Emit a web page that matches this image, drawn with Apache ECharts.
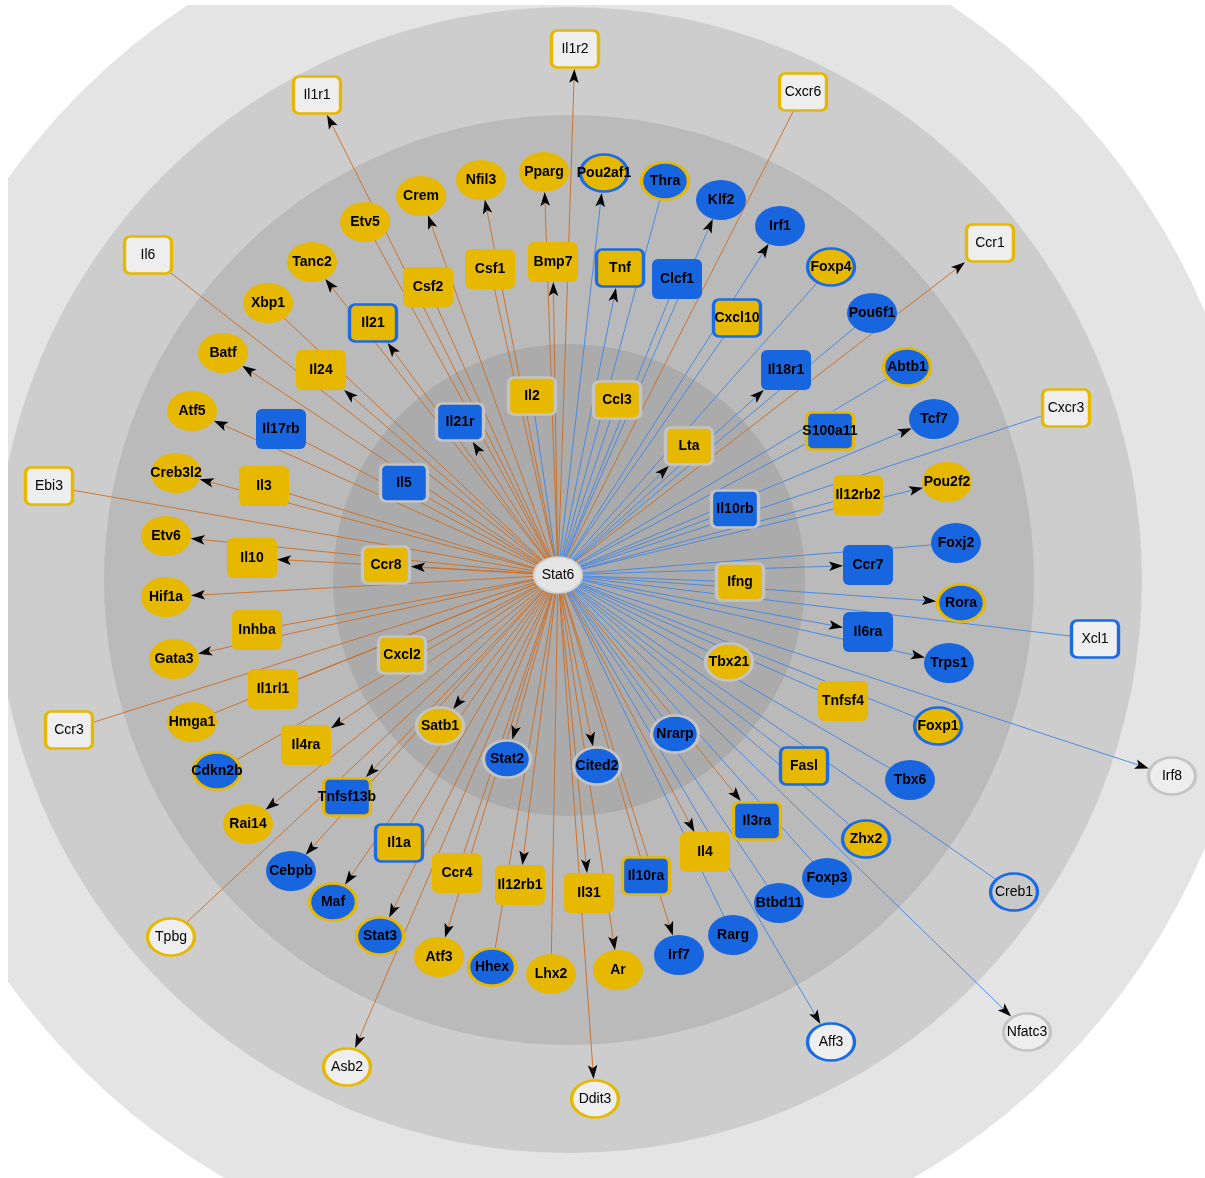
<!DOCTYPE html>
<html>
<head>
<meta charset="utf-8">
<script src="https://cdn.jsdelivr.net/npm/echarts@6/dist/echarts.min.js"></script>
<style>
  html, body { margin: 0; padding: 0; background: #ffffff; }
  #chart { width: 1205px; height: 1178px; }
</style>
</head>
<body>
<div id="chart"></div>
<script>
// Stat6 regulatory network: every gene is linked to the hub at (0, 0).
// Layout coordinates are offsets from the hub; codes per gene:
//   fill / rim: Y = yellow, B = blue, W = light, G = grey, - = none
//   tone: O = orange edge, B = blue edge;  arrow: 1 = arrowhead at target

const hubGene = 'Stat6';

// outermost genes
const outerGenes = ['Il1r2','Il1r1','Cxcr6','Il6','Ccr1','Cxcr3','Ebi3','Xcl1','Ccr3','Irf8','Tpbg','Creb1','Aff3','Nfatc3','Asb2','Ddit3'];
const outerX = [17,-241,245,-410,432,508,-509,537,-489,614,-387,456,273,469,-211,37];
const outerY = [-526,-480,-483,-320,-332,-167,-89,64,155,201,362,317,467,457,492,524];
const outerShape = 'rrrrrrrrreeeeeee';
const outerFill  = 'WWWWWWWWWWWGWWWW';
const outerRim   = 'YYYYYYYBYGYBBGYY';
const outerTone  = 'OOOOOBOBOBOBBBOO';
const outerArrow = '1100100001001111';

// ring of transcription factors (ellipses)
const tfGenes = ['Etv5','Crem','Nfil3','Pparg','Pou2af1','Thra','Klf2','Irf1','Foxp4','Pou6f1',
  'Abtb1','Tcf7','Pou2f2','Foxj2','Rora','Trps1','Foxp1','Tbx6','Zhx2','Foxp3',
  'Btbd11','Rarg','Irf7','Ar','Lhx2','Hhex','Atf3','Stat3','Maf','Cebpb',
  'Rai14','Cdkn2b','Hmga1','Gata3','Hif1a','Etv6','Creb3l2','Atf5','Batf','Xbp1','Tanc2'];
const tfX = [-193,-137,-77,-14,46,107,163,222,273,314,
  349,376,389,398,403,391,380,352,308,269,
  221,175,121,60,-7,-66,-119,-178,-225,-267,
  -310,-341,-366,-384,-392,-392,-382,-366,-335,-290,-246];
const tfY = [-353,-379,-395,-403,-402,-394,-375,-349,-308,-262,
  -208,-156,-93,-32,28,88,151,205,264,303,
  328,360,380,395,399,392,382,361,327,296,
  249,196,147,84,22,-39,-102,-164,-222,-272,-313];
const tfFill  = 'YYYYYBBBYB' + 'BBYBBBYBYB' + 'BBBYYBYBBB' + 'YBYYYYYYYY' + 'Y';
const tfRim   = '----BY--B-' + 'Y---Y-B-B-' + '-----Y-YY-' + '-Y--------' + '-';
const tfTone  = 'OOOOBBBBBB' + 'BBBBBBBBBB' + 'BBOOOOOOOO' + 'OOOOOOOOOO' + 'O';
const tfArrow = '0111101100' + '0110110000' + '0011001111' + '1001111110' + '1';

// ring of cytokines and receptors (rounded boxes)
const cytoGenes = ['Il24','Il21','Csf2','Csf1','Bmp7','Tnf','Clcf1','Cxcl10','Il18r1','S100a11',
  'Il12rb2','Ccr7','Il6ra','Tnfsf4','Fasl','Il3ra','Il4','Il10ra','Il31','Il12rb1',
  'Ccr4','Il1a','Tnfsf13b','Il4ra','Il1rl1','Inhba','Il10','Il3','Il17rb'];
const cytoX = [-237,-185,-130,-68,-5,62,119,179,228,272,
  300,310,310,285,246,199,147,88,31,-38,
  -101,-159,-211,-252,-285,-301,-306,-294,-277];
const cytoY = [-205,-252,-288,-306,-313,-307,-296,-257,-205,-144,
  -80,-10,57,126,191,246,277,301,318,310,
  298,268,222,170,114,55,-17,-89,-146];
const cytoFill  = 'YYYYYYBYBB' + 'YBBYYBYBYY' + 'YYBYYYYYB';
const cytoRim   = '-B---B-B-Y' + '----BY-Y--' + '-BY------';
const cytoTone  = 'OOOOOBBBBB' + 'BBBBBOOOOO' + 'OOOOOOOOO';
const cytoArrow = '1100110010' + '0110011011' + '001100100';

// genes closest to the hub
const innerGenes = ['Il21r','Il5','Il2','Ccl3','Lta','Il10rb','Ifng','Tbx21','Nrarp','Cited2','Stat2','Satb1','Cxcl2','Ccr8'];
const innerX = [-98,-154,-26,59,131,177,182,171,117,39,-51,-118,-156,-172];
const innerY = [-153,-92,-179,-175,-129,-66,7,87,159,191,184,151,80,-10];
const innerShape = 'rrrrrrreeeeerr';
const innerFill  = 'BBYYYBYYBBBYYY';
const innerRim   = 'GGGGGGGGGGGGGG';
const innerTone  = 'OOBBBBBBBOOOOO';
const innerArrow = '10001000011101';

// concentric background bands: centre offset and radii
const bandCenter = [11, 5];
const bandRadii = [690, 573, 465, 236];

// ---- styling ----
const bandColors = ['#e4e4e4', '#cdcdcd', '#bababa', '#ababab'];
const fillColors = { Y: '#e6b800', B: '#1766e0', W: '#eeeeee', G: '#c9c9c9' };
const rimColors  = { Y: '#e6b800', B: '#1a6be6', G: '#c4c4c4' };
const toneColors = { O: '#cc6c20', B: '#3f84e5' };
const ELLIPSE = 'path://M0 20 A25 20 0 1 1 50 20 A25 20 0 1 1 0 20 Z';
const BOX = 'path://M6 0 H44 A6 6 0 0 1 50 6 V34 A6 6 0 0 1 44 40 H6 A6 6 0 0 1 0 34 V6 A6 6 0 0 1 6 0 Z';
const HALF_W = 25, HALF_H = 20;

const groups = [
  { genes: outerGenes, x: outerX, y: outerY, shape: outerShape, fill: outerFill, rim: outerRim, tone: outerTone, arrow: outerArrow },
  { genes: tfGenes, x: tfX, y: tfY, shape: null, fill: tfFill, rim: tfRim, tone: tfTone, arrow: tfArrow, defShape: 'e' },
  { genes: cytoGenes, x: cytoX, y: cytoY, shape: null, fill: cytoFill, rim: cytoRim, tone: cytoTone, arrow: cytoArrow, defShape: 'r' },
  { genes: innerGenes, x: innerX, y: innerY, shape: innerShape, fill: innerFill, rim: innerRim, tone: innerTone, arrow: innerArrow }
];

const genes = [];
groups.forEach(function (g) {
  g.genes.forEach(function (name, i) {
    genes.push({
      name: name,
      x: g.x[i], y: g.y[i],
      shape: g.shape ? g.shape[i] : g.defShape,
      fill: g.fill[i], rim: g.rim[i], tone: g.tone[i],
      arrow: g.arrow[i] === '1'
    });
  });
});

function nodeItem(n) {
  const hasRim = n.rim !== '-';
  const light = n.fill === 'W' || n.fill === 'G';
  return {
    name: n.name,
    value: [n.x, n.y],
    symbol: n.shape === 'e' ? ELLIPSE : BOX,
    symbolSize: hasRim ? [47, 37] : [50, 40],
    itemStyle: {
      color: fillColors[n.fill],
      borderColor: hasRim ? rimColors[n.rim] : 'transparent',
      borderWidth: hasRim ? 3 : 0,
      opacity: 1
    },
    label: { fontWeight: light ? 'normal' : 'bold' }
  };
}

const nodeData = [{
  name: hubGene,
  value: [0, 0],
  symbol: ELLIPSE,
  symbolSize: [48, 36],
  itemStyle: { color: '#e5e5e5', borderColor: '#d2d2d2', borderWidth: 2, opacity: 1 },
  label: { fontWeight: 'normal' }
}].concat(genes.map(nodeItem));

const chart = echarts.init(document.getElementById('chart'), null, { renderer: 'canvas' });

chart.setOption({
  animation: false,
  backgroundColor: '#ffffff',
  grid: { left: 8, right: 0, top: 5, bottom: 0, outerBoundsMode: 'none' },
  xAxis: { type: 'value', min: -550, max: 647, show: false },
  yAxis: { type: 'value', min: -570, max: 603, inverse: true, show: false },
  series: [
    {
      // background bands
      type: 'custom',
      coordinateSystem: 'cartesian2d',
      clip: true,
      silent: true,
      z: 0,
      data: bandRadii.map(function (r) { return [bandCenter[0], bandCenter[1], r]; }),
      renderItem: function (params, api) {
        const c = api.coord([api.value(0), api.value(1)]);
        const r = api.size([api.value(2), 0])[0];
        return {
          type: 'circle',
          shape: { cx: c[0], cy: c[1], r: r },
          style: { fill: bandColors[params.dataIndex] }
        };
      }
    },
    {
      // edges from the hub, arrowheads at the target border
      type: 'custom',
      coordinateSystem: 'cartesian2d',
      silent: true,
      z: 1,
      data: genes.map(function (n) { return [n.x, n.y]; }),
      renderItem: function (params, api) {
        const n = genes[params.dataIndex];
        const a = api.coord([0, 0]);
        const b = api.coord([api.value(0), api.value(1)]);
        const dx = b[0] - a[0], dy = b[1] - a[1];
        const len = Math.sqrt(dx * dx + dy * dy);
        const ux = dx / len, uy = dy / len;
        const stroke = toneColors[n.tone];
        if (!n.arrow) {
          return {
            type: 'line',
            shape: { x1: a[0], y1: a[1], x2: b[0], y2: b[1] },
            style: { stroke: stroke, lineWidth: 0.9 }
          };
        }
        let t;
        if (n.shape === 'e') {
          t = 1 / Math.sqrt((ux / HALF_W) * (ux / HALF_W) + (uy / HALF_H) * (uy / HALF_H));
        } else {
          t = Math.min(HALF_W / Math.max(Math.abs(ux), 1e-6), HALF_H / Math.max(Math.abs(uy), 1e-6));
        }
        const tip = [b[0] - ux * t, b[1] - uy * t];
        const L = 14, W = 4.8, notch = 3.2;
        const back = [tip[0] - ux * L, tip[1] - uy * L];
        const mid = [tip[0] - ux * (L - notch), tip[1] - uy * (L - notch)];
        const nx = -uy, ny = ux;
        return {
          type: 'group',
          children: [
            {
              type: 'line',
              shape: { x1: a[0], y1: a[1], x2: mid[0], y2: mid[1] },
              style: { stroke: stroke, lineWidth: 0.9 }
            },
            {
              type: 'polygon',
              shape: { points: [tip, [back[0] + nx * W, back[1] + ny * W], mid, [back[0] - nx * W, back[1] - ny * W]] },
              style: { fill: '#000000' }
            }
          ]
        };
      }
    },
    {
      // gene nodes
      type: 'scatter',
      coordinateSystem: 'cartesian2d',
      silent: true,
      clip: false,
      z: 2,
      symbolKeepAspect: false,
      itemStyle: { opacity: 1 },
      emphasis: { disabled: true },
      label: {
        show: true,
        position: 'inside',
        formatter: '{b}',
        color: '#000000',
        fontSize: 14,
        fontFamily: '"Liberation Sans", Arial, sans-serif'
      },
      data: nodeData
    }
  ]
});
</script>
</body>
</html>
